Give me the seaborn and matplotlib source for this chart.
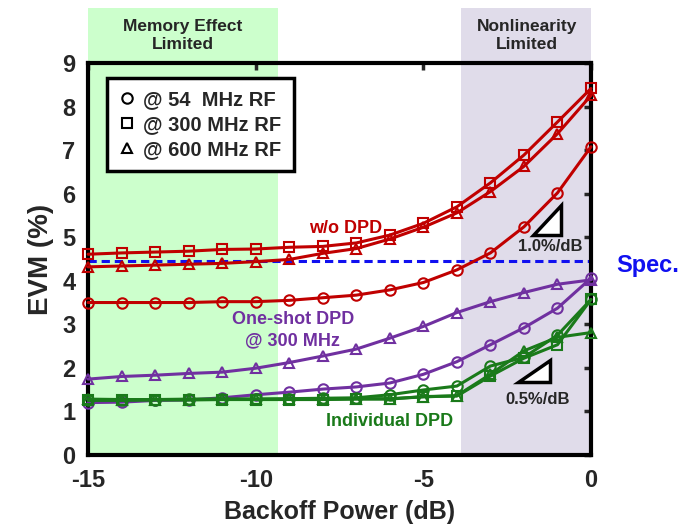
import numpy as np
import pandas as pd
import matplotlib.pyplot as plt
import seaborn as sns
from matplotlib.lines import Line2D
from matplotlib.patches import Polygon

# backoff power (dB)
backoff = list(range(-15, 1))

# w/o DPD
wo_54 = [3.50, 3.50, 3.50, 3.50, 3.52, 3.52, 3.55, 3.61, 3.67, 3.79, 3.96, 4.25, 4.64, 5.24, 6.02, 7.08]
wo_300 = [4.61, 4.64, 4.66, 4.68, 4.72, 4.73, 4.77, 4.79, 4.87, 5.05, 5.32, 5.70, 6.25, 6.89, 7.65, 8.42]
wo_600 = [4.32, 4.34, 4.36, 4.38, 4.40, 4.44, 4.49, 4.63, 4.74, 4.96, 5.23, 5.56, 6.05, 6.63, 7.38, 8.26]

# one-shot DPD @ 300 MHz
one_54 = [1.20, 1.21, 1.25, 1.26, 1.31, 1.38, 1.44, 1.51, 1.56, 1.65, 1.85, 2.14, 2.53, 2.92, 3.37, 4.06]
one_600 = [1.74, 1.80, 1.83, 1.87, 1.90, 1.99, 2.12, 2.27, 2.43, 2.68, 2.95, 3.27, 3.52, 3.73, 3.92, 4.02]

# individual DPD
ind_54 = [1.27, 1.27, 1.27, 1.28, 1.28, 1.28, 1.29, 1.30, 1.31, 1.38, 1.49, 1.58, 2.04, 2.24, 2.75, 3.57]
ind_300 = [1.25, 1.25, 1.26, 1.26, 1.27, 1.27, 1.27, 1.27, 1.28, 1.28, 1.34, 1.35, 1.81, 2.22, 2.53, 3.57]
ind_600 = [1.28, 1.27, 1.27, 1.27, 1.28, 1.28, 1.28, 1.28, 1.29, 1.29, 1.33, 1.36, 1.85, 2.39, 2.70, 2.81]

spec = 4.45

red = "#c00000"
purple = "#7030a0"
green = "#1a7a1a"
blue = "#1010f0"

sns.set_style("white")
plt.rcParams['font.family'] = ['Liberation Sans', 'DejaVu Sans']
plt.rcParams['font.weight'] = 'bold'
plt.rcParams['axes.unicode_minus'] = False

fig = plt.figure(figsize=(6.88, 5.27), dpi=100)
ax = fig.add_axes([0.128, 0.137, 0.731, 0.743])

# shaded regions
ax.axvspan(-15, -9.33, ymin=0, ymax=1.14, color="#ccffcc", lw=0, zorder=0, clip_on=False)
ax.axvspan(-3.87, 0, ymin=0, ymax=1.14, color="#e0dcea", lw=0, zorder=0, clip_on=False)

series = [
    (wo_300, red, "s"), (wo_600, red, "^"), (wo_54, red, "o"),
    (one_600, purple, "^"), (one_54, purple, "o"),
    (ind_54, green, "o"), (ind_600, green, "^"), (ind_300, green, "s"),
]
for vals, col, mk in series:
    df = pd.DataFrame({"x": backoff, "y": vals})
    sns.lineplot(data=df, x="x", y="y", ax=ax, color=col, lw=2.2, marker=mk,
                 markersize=7.5, mfc="none", mec=col, mew=1.5, clip_on=False, zorder=3)

ax.plot([-15, 0], [spec, spec], color=blue, lw=2.2, ls=(0, (2.7, 1.6)), zorder=2)

ax.set_xlim(-15, 0)
ax.set_ylim(0, 9)
ax.set_xticks([-15, -10, -5, 0])
ax.set_yticks(range(0, 10))
ax.tick_params(direction="in", length=5, width=2.5, labelsize=17, top=True, right=True)
ax.tick_params(axis="x", pad=10)
ax.tick_params(axis="y", pad=9)
for s in ax.spines.values():
    s.set_linewidth(3)
    s.set_color("black")
ax.set_xlabel("Backoff Power (dB)", fontsize=18, fontweight="bold", labelpad=6)
ax.set_ylabel("EVM (%)", fontsize=20, fontweight="bold", labelpad=6)

# annotations
ax.text(-12.17, 9.64, "Memory Effect\nLimited", ha="center", va="center", fontsize=12.5, linespacing=1.3)
ax.text(-1.91, 9.64, "Nonlinearity\nLimited", ha="center", va="center", fontsize=12.5, linespacing=1.3)
ax.text(-7.31, 5.21, "w/o DPD", ha="center", va="center", fontsize=13, color=red)
ax.text(-8.89, 2.87, "One-shot DPD\n@ 300 MHz", ha="center", va="center", fontsize=13, color=purple, linespacing=1.3)
ax.text(-6.02, 0.76, "Individual DPD", ha="center", va="center", fontsize=13, color=green)
ax.text(-1.22, 4.78, "1.0%/dB", ha="center", va="center", fontsize=12)
ax.text(-1.58, 1.26, "0.5%/dB", ha="center", va="center", fontsize=12)
ax.text(1.7, 4.36, "Spec.", ha="center", va="center", fontsize=17, color=blue, clip_on=False)

ax.add_patch(Polygon([[-1.73, 5.05], [-0.89, 5.05], [-0.89, 5.74]], closed=True,
                     fc="white", ec="black", lw=2.5, zorder=4))
ax.add_patch(Polygon([[-2.18, 1.68], [-1.22, 1.68], [-1.22, 2.18]], closed=True,
                     fc="white", ec="black", lw=2.5, zorder=4))

handles = [
    Line2D([], [], ls="none", marker="o", mfc="none", mec="black", mew=1.5, markersize=7.5),
    Line2D([], [], ls="none", marker="s", mfc="none", mec="black", mew=1.5, markersize=7.5),
    Line2D([], [], ls="none", marker="^", mfc="none", mec="black", mew=1.5, markersize=7.5),
]
labels = ["@ 54  MHz RF", "@ 300 MHz RF", "@ 600 MHz RF"]
leg = ax.legend(handles, labels, loc="upper left", bbox_to_anchor=(0.038, 0.962),
                borderaxespad=0, fontsize=14.5, frameon=True, fancybox=False, handlelength=0.8,
                handletextpad=0.4, labelspacing=0.3, borderpad=0.6)
leg.get_frame().set_edgecolor("black")
leg.get_frame().set_linewidth(2.5)
leg.get_frame().set_alpha(1)

fig.savefig("out.png", dpi=100)
